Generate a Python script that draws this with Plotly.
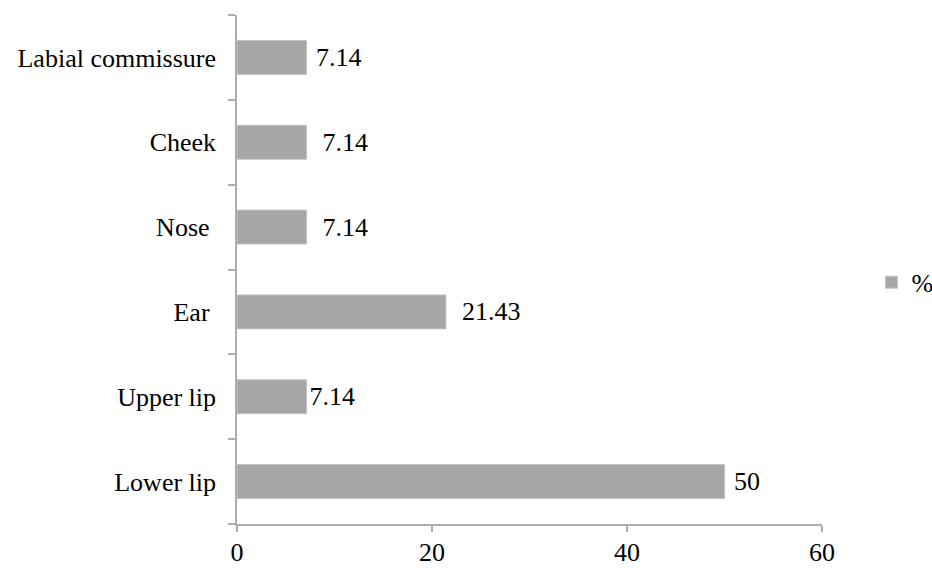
import plotly.graph_objects as go

categories = ["Lower lip", "Upper lip", "Ear\u00a0", "Nose\u00a0", "Cheek", "Labial commissure"]
values = [50, 7.14, 21.43, 7.14, 7.14, 7.14]
series_name = "%"
x_ticks = [0, 20, 40, 60]

# leading non-breaking spaces reproduce the label offsets of the original
label_pad = [1, 0, 2, 2, 2, 1]
labels = ["\u00a0" * p + f"{v:g}" for p, v in zip(label_pad, values)]

FONT = "Liberation Serif"

fig = go.Figure(
    go.Bar(
        x=values,
        y=categories,
        orientation="h",
        name=series_name,
        text=labels,
        textposition="outside",
        constraintext="none",
        cliponaxis=False,
        textfont=dict(family=FONT, size=26, color="#000000"),
        marker=dict(color="#a6a6a6", line=dict(color="#c4c4c4", width=1)),
        showlegend=True,
    )
)

fig.update_layout(
    width=932,
    height=568,
    margin=dict(l=237, r=110, t=15, b=44, autoexpand=False),
    paper_bgcolor="white",
    plot_bgcolor="white",
    font=dict(family=FONT, size=26, color="#000000"),
    bargap=0.6,
    legend=dict(
        xref="container",
        yref="container",
        x=0.935,
        y=0.503,
        xanchor="left",
        yanchor="middle",
        font=dict(family=FONT, size=26),
        itemwidth=30,
        bgcolor="rgba(0,0,0,0)",
    ),
)

fig.update_xaxes(
    range=[0, 60],
    tickvals=x_ticks,
    showgrid=False,
    zeroline=False,
    showline=True,
    linecolor="#adadad",
    linewidth=1.5,
    ticks="outside",
    ticklen=6,
    tickcolor="#adadad",
    tickwidth=1.5,
    ticklabelstandoff=-2,
    automargin=False,
    tickfont=dict(family=FONT, size=26),
)

fig.update_yaxes(
    type="category",
    categoryorder="array",
    categoryarray=categories,
    showgrid=False,
    zeroline=False,
    showline=True,
    linecolor="#adadad",
    linewidth=1.5,
    ticks="outside",
    tickson="boundaries",
    ticklen=7,
    tickcolor="#adadad",
    tickwidth=1.5,
    ticklabelstandoff=14,
    automargin=False,
    tickfont=dict(family=FONT, size=26),
)

fig.write_html("out.html")
